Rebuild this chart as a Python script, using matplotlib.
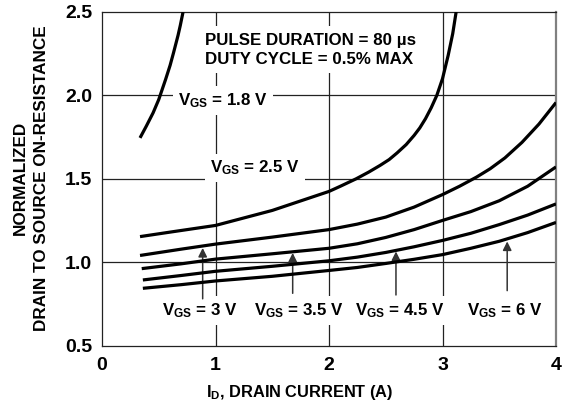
import matplotlib
matplotlib.use("Agg")
import matplotlib.pyplot as plt

# figure setup - bold helvetica look
plt.rcParams['font.family'] = ['Liberation Sans', 'DejaVu Sans']
plt.rcParams['font.weight'] = 'bold'
plt.rcParams['mathtext.fontset'] = 'custom'
plt.rcParams['mathtext.rm'] = 'Liberation Sans:bold'
plt.rcParams['mathtext.default'] = 'regular'

# curves (I_D in A, normalized R_DS(on))
vgs18_x = [0.335, 0.39, 0.45, 0.50, 0.56, 0.60, 0.63, 0.67, 0.69, 0.714]
vgs18_y = [1.745, 1.815, 1.895, 1.975, 2.095, 2.18, 2.255, 2.36, 2.42, 2.5]

vgs25_x = [0.335, 0.6, 1.0, 1.5, 2.0, 2.1, 2.24, 2.35, 2.45, 2.53, 2.6, 2.68,
           2.75, 2.8, 2.85, 2.9, 2.95, 3.0, 3.05, 3.09, 3.12]
vgs25_y = [1.153, 1.18, 1.22, 1.31, 1.424, 1.455, 1.50, 1.54, 1.58, 1.615, 1.655,
           1.705, 1.76, 1.805, 1.86, 1.925, 2.0, 2.1, 2.24, 2.37, 2.5]

vgs3_x = [0.335, 0.7, 1.0, 1.5, 2.0, 2.25, 2.5, 2.75, 3.0, 3.15, 3.3, 3.42,
          3.55, 3.7, 3.85, 4.0]
vgs3_y = [1.04, 1.078, 1.108, 1.15, 1.195, 1.228, 1.27, 1.33, 1.405, 1.455, 1.51,
          1.56, 1.625, 1.718, 1.828, 1.957]

vgs35_x = [0.35, 0.7, 1.0, 1.5, 2.0, 2.25, 2.5, 2.75, 3.0, 3.25, 3.5, 3.75, 4.0]
vgs35_y = [0.961, 0.99, 1.018, 1.05, 1.083, 1.11, 1.148, 1.195, 1.25, 1.303,
           1.368, 1.455, 1.571]

vgs45_x = [0.36, 0.7, 1.0, 1.5, 2.0, 2.25, 2.5, 2.75, 3.0, 3.25, 3.5, 3.75, 4.0]
vgs45_y = [0.893, 0.92, 0.945, 0.975, 1.008, 1.03, 1.058, 1.092, 1.13, 1.173,
           1.225, 1.282, 1.349]

vgs6_x = [0.36, 0.7, 1.0, 1.5, 2.0, 2.25, 2.5, 2.75, 3.0, 3.25, 3.5, 3.75, 4.0]
vgs6_y = [0.843, 0.865, 0.887, 0.915, 0.95, 0.968, 0.992, 1.017, 1.045, 1.083,
          1.125, 1.177, 1.238]

curves = [(vgs18_x, vgs18_y), (vgs25_x, vgs25_y), (vgs3_x, vgs3_y),
          (vgs35_x, vgs35_y), (vgs45_x, vgs45_y), (vgs6_x, vgs6_y)]

# arrow callouts for the lower curves: x, tip y, tail y
arrow_x = [0.887, 1.68, 2.59, 3.57]
arrow_tip = [1.085, 1.055, 1.064, 1.124]
arrow_tail = [0.78, 0.813, 0.803, 0.829]

x_ticks = [0, 1, 2, 3, 4]
y_ticks = [0.5, 1.0, 1.5, 2.0, 2.5]

fig = plt.figure(figsize=(5.64, 4.08), dpi=100)
ax = fig.add_axes([102 / 564, 1 - 345.5 / 408, 454 / 564, 333.5 / 408])

ax.set_xlim(0, 4)
ax.set_ylim(0.5, 2.5)
ax.set_xticks(x_ticks)
ax.set_xticklabels([str(t) for t in x_ticks])
ax.set_yticks(y_ticks)
ax.set_yticklabels(['%.1f' % t for t in y_ticks])
ax.tick_params(length=0, labelsize=14)
ax.tick_params(axis='x', pad=8)
ax.tick_params(axis='y', pad=7)

# inner grid only
for gx in [1, 2, 3]:
    ax.axvline(gx, color='#222222', lw=0.9, zorder=1)
for gy in [1.0, 1.5, 2.0]:
    ax.axhline(gy, color='#222222', lw=0.9, zorder=1)

for sp in ['left', 'bottom', 'top']:
    ax.spines[sp].set_linewidth(0.9)
    ax.spines[sp].set_color('#222222')
ax.spines['right'].set_linewidth(1.6)
ax.spines['right'].set_color('#808080')

for cx, cy in curves:
    ax.plot(cx, cy, color='black', lw=2.3, solid_capstyle='butt',
            solid_joinstyle='round', zorder=5)

for ax_x, tip, tail in zip(arrow_x, arrow_tip, arrow_tail):
    ax.annotate('', xy=(ax_x, tip), xytext=(ax_x, tail),
                arrowprops=dict(arrowstyle='-|>', color='#333333', lw=1.1,
                                mutation_scale=13, shrinkA=0, shrinkB=0),
                zorder=4)

box = dict(facecolor='white', edgecolor='none', pad=3.5)
fs = 12.2

ax.text(1.066, 1.94, r'V$_{\mathregular{GS}}$ = 1.8 V', ha='center', va='baseline',
        fontsize=fs, bbox=box, zorder=3)
ax.text(1.348, 1.537, r'V$_{\mathregular{GS}}$ = 2.5 V', ha='center', va='baseline',
        fontsize=fs, bbox=box, zorder=3)

bottom_labels = ['3 V', '3.5 V', '4.5 V', '6 V']
bottom_x = [0.863, 1.731, 2.626, 3.551]
for lx, lab in zip(bottom_x, bottom_labels):
    ax.text(lx, 0.683, r'V$_{\mathregular{GS}}$ = ' + lab, ha='center', va='baseline',
            fontsize=fs, bbox=box, zorder=3)

ax.text(0.907, 2.191, 'PULSE DURATION = 80 \u00b5s\nDUTY CYCLE = 0.5% MAX',
        ha='left', va='baseline', fontsize=fs, linespacing=1.3,
        bbox=dict(facecolor='white', edgecolor='none', pad=5), zorder=3)

fig.text(300 / 564, 1 - 397 / 408, r'I$_{\mathregular{D}}$, DRAIN CURRENT (A)',
         ha='center', va='baseline', fontsize=11.8)
fig.text(31 / 564, 1 - 178 / 408, 'NORMALIZED\nDRAIN TO SOURCE ON-RESISTANCE',
         ha='center', va='center', rotation=90, fontsize=12.3,
         multialignment='center', linespacing=1.45)

fig.savefig('out.png', dpi=100)
